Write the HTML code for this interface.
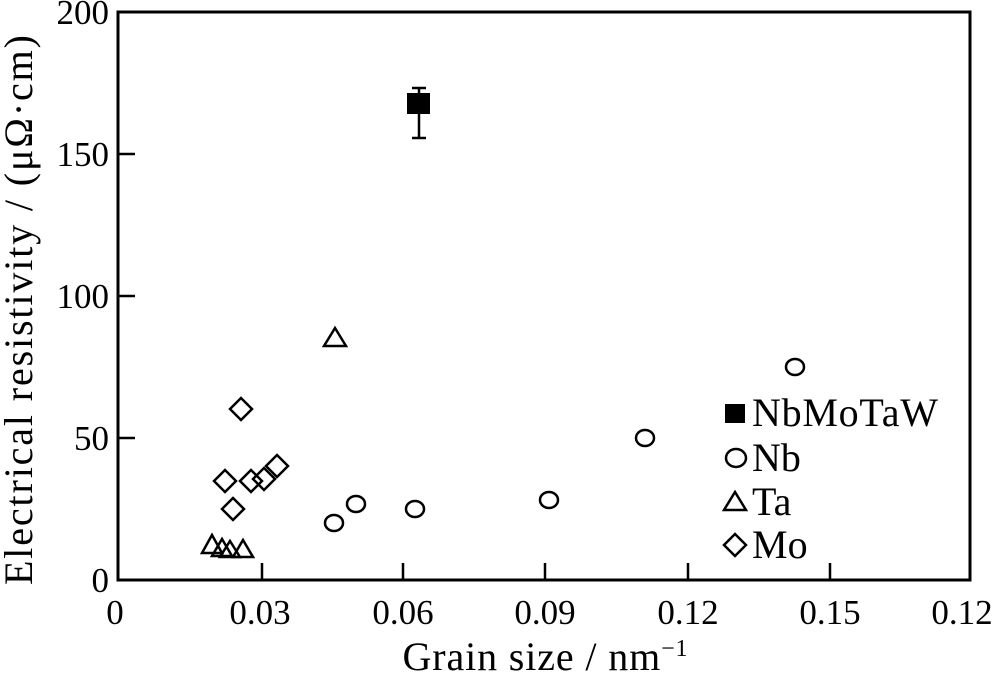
<!DOCTYPE html>
<html><head><meta charset="utf-8"><style>html,body{margin:0;padding:0;background:#fff}</style></head><body>
<svg width="1000" height="676" viewBox="0 0 1000 676" xmlns="http://www.w3.org/2000/svg" font-family="Liberation Serif, serif" fill="none" stroke="#000">
<rect x="118" y="12" width="852" height="568" stroke-width="3"/>
<g stroke-width="2.5">
<line x1="118" y1="438" x2="135" y2="438"/><line x1="118" y1="296" x2="135" y2="296"/><line x1="118" y1="154" x2="135" y2="154"/>
<line x1="262" y1="580" x2="262" y2="563"/><line x1="403" y1="580" x2="403" y2="563"/><line x1="545" y1="580" x2="545" y2="563"/><line x1="688" y1="580" x2="688" y2="563"/><line x1="830" y1="580" x2="830" y2="563"/>
</g>
<g fill="#000" stroke="none" font-size="35">
<text x="109" y="592" text-anchor="end">0</text>
<text x="109" y="450" text-anchor="end">50</text>
<text x="109" y="308" text-anchor="end">100</text>
<text x="109" y="166" text-anchor="end">150</text>
<text x="109" y="24" text-anchor="end">200</text>
<text x="115" y="624" text-anchor="middle">0</text>
<text x="260" y="624" text-anchor="middle">0.03</text>
<text x="403" y="624" text-anchor="middle">0.06</text>
<text x="545" y="624" text-anchor="middle">0.09</text>
<text x="688" y="624" text-anchor="middle">0.12</text>
<text x="830" y="624" text-anchor="middle">0.15</text>
<text x="962" y="624" text-anchor="middle">0.12</text>
<text x="545" y="670" text-anchor="middle" font-size="40" textLength="285">Grain size / nm<tspan font-size="24" dy="-14">−1</tspan></text>
<text transform="translate(32,310) rotate(-90)" text-anchor="middle" font-size="40" textLength="550">Electrical resistivity / (μΩ·cm)</text>
<g font-size="40">
<text x="752" y="426" textLength="186">NbMoTaW</text>
<text x="752" y="471">Nb</text>
<text x="752" y="515">Ta</text>
<text x="752" y="558">Mo</text>
</g>
</g>
<g stroke-width="2.5">
<line x1="419" y1="88" x2="419" y2="138"/><line x1="412" y1="88" x2="426" y2="88"/><line x1="412" y1="138" x2="426" y2="138"/>
</g>
<rect x="407" y="93" width="23" height="21" fill="#000" stroke="none"/>
<rect x="725" y="404" width="20" height="19" fill="#000" stroke="none"/>
<g stroke-width="2.5">
<ellipse cx="334" cy="523" rx="9" ry="8"/><ellipse cx="356" cy="504" rx="9" ry="8"/><ellipse cx="415" cy="509" rx="9" ry="8"/>
<ellipse cx="549" cy="500" rx="9" ry="8"/><ellipse cx="645" cy="438" rx="9" ry="8"/><ellipse cx="795" cy="367" rx="9" ry="8"/>
<ellipse cx="736" cy="458" rx="10" ry="9"/>
<path d="M335 328 L346 346 L324 346 Z"/>
<path d="M212 535 L222 553 L202 553 Z"/><path d="M222 539 L232 556 L212 556 Z"/><path d="M230 541 L240 557 L220 557 Z"/><path d="M243 540 L253 557 L233 557 Z"/>
<path d="M735 492 L746 510 L724 510 Z"/>
<path d="M241 398 L252 409 L241 420 L230 409 Z"/><path d="M225 470 L236 481 L225 492 L214 481 Z"/><path d="M233 498 L244 509 L233 520 L222 509 Z"/>
<path d="M251 470 L262 481 L251 492 L240 481 Z"/><path d="M264 468 L275 479 L264 490 L253 479 Z"/><path d="M277 455 L288 466 L277 477 L266 466 Z"/>
<path d="M735 534 L746 545 L735 556 L724 545 Z"/>
</g>
</svg>
</body></html>
